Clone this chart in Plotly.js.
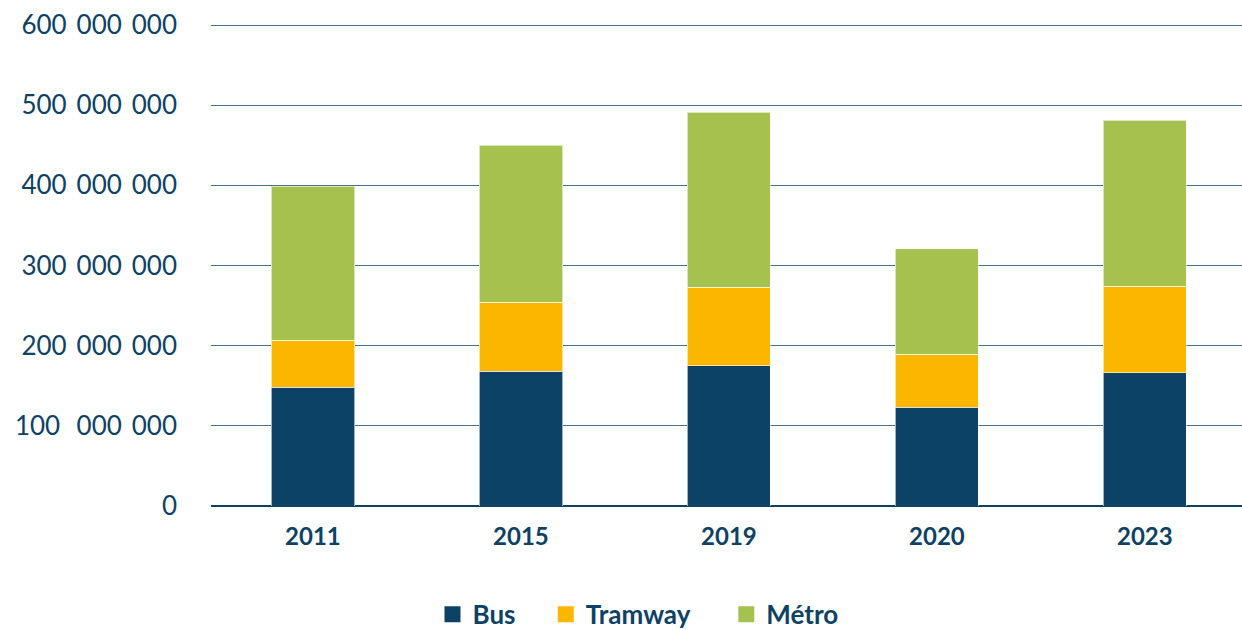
<!DOCTYPE html>
<html><head><meta charset="utf-8">
<script src="https://cdn.plot.ly/plotly-3.0.1.min.js"></script>
<style>html,body{margin:0;padding:0;background:#fff;}#chart{width:1242px;height:630px;}</style>
</head><body><div id="chart"></div>
<script>
const years = ["2011", "2015", "2019", "2020", "2023"];
const bus = [148e6, 168e6, 175e6, 123e6, 166e6];
const tramway = [59e6, 86e6, 98e6, 66e6, 108e6];
const metro = [192e6, 196e6, 218e6, 132e6, 207e6];
const seriesNames = ["Bus", "Tramway", "Métro"];
const legendNames = ["Bus\u00a0\u00a0\u00a0\u00a0", "Tramway\u00a0\u00a0\u00a0\u00a0\u00a0", "Métro"];
const tickVals = [0, 100e6, 200e6, 300e6, 400e6, 500e6, 600e6];
const S = "\u00a0\u2009";
const tickText = ["0", "100" + S + "\u2009\u2009" + "000" + S + "000", "200" + S + "000" + S + "000", "300" + S + "000" + S + "000", "400" + S + "000" + S + "000", "500" + S + "000" + S + "000", "600" + S + "000" + S + "000"];

const colors = ["#0c4266", "#fbb700", "#a5c24f"];
const navy = "#0e4265";
const series = [bus, tramway, metro];
const traces = series.map((vals, i) => ({
  type: "bar", x: years, y: vals, name: seriesNames[i],
  marker: {color: colors[i], line: {color: "rgba(255,255,255,0.6)", width: 1}},
  width: 0.4, showlegend: false, hoverinfo: "x+y+name"
}));
legendNames.forEach((n, i) => traces.push({
  type: "scatter", mode: "markers", x: [null], y: [null], name: n,
  marker: {symbol: "square", size: 19, color: colors[i]}, showlegend: true
}));

const layout = {
  width: 1242, height: 630,
  margin: {l: 211, r: 0, t: 21, b: 124, autoexpand: false},
  barmode: "stack",
  paper_bgcolor: "#fff", plot_bgcolor: "#fff",
  font: {family: "Lato, 'Open Sans', sans-serif", color: navy},
  xaxis: {type: "category", range: [-0.49, 4.467], showgrid: false, zeroline: false,
    showline: false, ticks: "", tickfont: {size: 24, weight: 700, color: navy}, ticklabelstandoff: 14},
  yaxis: {range: [0, 605e6], tickvals: tickVals, ticktext: tickText,
    showgrid: true, gridcolor: "#4a7090", gridwidth: 1, zeroline: true, zerolinecolor: navy, zerolinewidth: 1.5,
    showline: false, ticks: "", tickfont: {size: 26, color: navy}, ticklabelstandoff: 33},
  legend: {orientation: "h", x: (638 - 211) / 1031, xref: "paper", xanchor: "center", y: -0.175, yanchor: "top",
    font: {size: 26, weight: 700, color: navy}, itemwidth: 30, itemgap: 30, traceorder: "normal"},
  showlegend: true
};
Plotly.newPlot("chart", traces, layout, {displayModeBar: false, staticPlot: true});
</script></body></html>
